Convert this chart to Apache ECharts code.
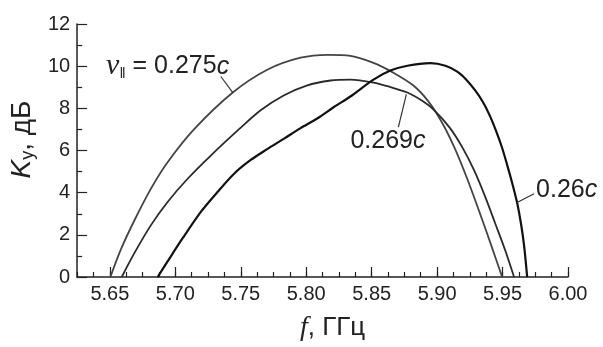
<!DOCTYPE html>
<html>
<head>
<meta charset="utf-8">
<script src="https://cdn.jsdelivr.net/npm/echarts@6/dist/echarts.min.js"></script>
<style>
  html, body { margin: 0; padding: 0; background: #fff; }
  #chart { width: 603px; height: 347px; }
</style>
</head>
<body>
<div id="chart"></div>
<script>
// ---- Data ----
const xMajorTicks = [5.65, 5.70, 5.75, 5.80, 5.85, 5.90, 5.95, 6.00];

const f_0275 = [5.6504, 5.6585, 5.6687, 5.6814, 5.6941, 5.7144, 5.7439, 5.7706, 5.7957, 5.8163, 5.8338, 5.8514, 5.8666, 5.8819, 5.8933, 5.9032, 5.9131, 5.9230, 5.9322, 5.9413, 5.9497];
const k_0275 = [0, 1.32, 2.68, 4.19, 5.44, 7.01, 8.75, 9.84, 10.40, 10.54, 10.49, 10.16, 9.69, 9.08, 8.33, 7.39, 6.16, 4.66, 3.11, 1.51, 0];

const f_0269 = [5.6591, 5.6687, 5.6814, 5.6941, 5.7094, 5.7271, 5.7487, 5.7652, 5.7828, 5.8003, 5.8186, 5.8338, 5.8514, 5.8643, 5.8773, 5.8880, 5.8971, 5.9093, 5.9192, 5.9284, 5.9367, 5.9444, 5.9520, 5.9588];
const k_0269 = [0, 1.13, 2.46, 3.56, 4.66, 5.76, 7.01, 7.91, 8.61, 9.08, 9.32, 9.36, 9.22, 9.01, 8.75, 8.38, 7.95, 7.11, 6.16, 5.04, 3.81, 2.54, 1.27, 0];

const f_026 = [5.6865, 5.6941, 5.7056, 5.7195, 5.7322, 5.7449, 5.7576, 5.7698, 5.7828, 5.7957, 5.8087, 5.8209, 5.8338, 5.8514, 5.8643, 5.8773, 5.8948, 5.9063, 5.9154, 5.9223, 5.9291, 5.9352, 5.9405, 5.9451, 5.9497, 5.9535, 5.9573, 5.9611, 5.9642, 5.9665, 5.9688];
const k_026 = [0, 0.74, 1.84, 3.09, 4.03, 4.90, 5.55, 6.05, 6.55, 7.06, 7.53, 8.05, 8.56, 9.36, 9.79, 10.02, 10.14, 10.02, 9.74, 9.36, 8.85, 8.28, 7.62, 6.92, 6.12, 5.32, 4.47, 3.53, 2.49, 1.46, 0];

// annotation positions in data coordinates
const labelA_at = [5.6471, 9.98];
const labelB_at = [5.8338, 6.45];
const labelC_at = [5.9756, 4.14];
const leaderA = [[5.7348, 9.51], [5.7439, 8.75]];
const leaderB = [[5.8704, 7.11], [5.8765, 8.66]];
const leaderC = [[5.9611, 3.53], [5.9741, 3.95]];

function pairs(xs, ys) { return xs.map((x, i) => [x, ys[i]]); }

const SANS = 'Liberation Sans, Arial, Helvetica, sans-serif';
const SERIF = 'Liberation Serif, Times New Roman, serif';
const AXC = '#222';

const chart = echarts.init(document.getElementById('chart'), null, { renderer: 'canvas' });

const option = {
  backgroundColor: '#fff',
  animation: false,
  grid: { left: 77, right: 35, top: 24, bottom: 68 },
  xAxis: [
    {
      type: 'value', min: 5.625, max: 6.0, interval: 0.0125,
      axisLine: { show: true, onZero: false, lineStyle: { color: AXC, width: 1.5 } },
      axisTick: { show: true, inside: true, length: 5, lineStyle: { color: AXC, width: 1.2 } },
      axisLabel: { show: false },
      splitLine: { show: false }
    },
    {
      type: 'value', min: 5.625, max: 6.0, position: 'bottom',
      axisLine: { show: false },
      axisTick: { show: true, inside: true, length: 10, customValues: xMajorTicks, lineStyle: { color: AXC, width: 1.2 } },
      axisLabel: {
        show: true, customValues: xMajorTicks, margin: 7,
        formatter: v => v.toFixed(2),
        fontFamily: SANS, fontSize: 20, color: AXC
      },
      splitLine: { show: false },
      name: '{f|f}{n|, ГГц}',
      nameLocation: 'middle',
      nameGap: 37,
      nameTextStyle: {
        padding: [0, 0, 0, 20],
        rich: {
          f: { fontFamily: SERIF, fontStyle: 'italic', fontSize: 28, color: AXC },
          n: { fontFamily: SANS, fontSize: 26, color: AXC }
        }
      }
    }
  ],
  yAxis: {
    type: 'value', min: 0, max: 12, interval: 2,
    axisLine: { show: true, onZero: false, lineStyle: { color: AXC, width: 1.5 } },
    axisTick: { show: true, inside: true, length: 10, lineStyle: { color: AXC, width: 1.2 } },
    minorTick: { show: true, splitNumber: 2, length: 5, lineStyle: { color: AXC, width: 1.2 } },
    axisLabel: { margin: 7, fontFamily: SANS, fontSize: 20, color: AXC },
    splitLine: { show: false },
    name: '{k|K}{s|у}{n|, дБ}',
    nameLocation: 'middle',
    nameGap: 36,
    nameTextStyle: {
      padding: [0, 0, 0, 22],
      rich: {
        k: { fontFamily: SANS, fontStyle: 'italic', fontSize: 28, color: AXC, lineHeight: 30 },
        s: { fontFamily: SANS, fontSize: 18, color: AXC, verticalAlign: 'bottom', lineHeight: 20 },
        n: { fontFamily: SANS, fontSize: 28, color: AXC, lineHeight: 30 }
      }
    }
  },
  series: [
    {
      type: 'line', xAxisIndex: 0, data: pairs(f_0275, k_0275), smooth: 0.3,
      showSymbol: false, lineStyle: { color: '#444', width: 1.8 }
    },
    {
      type: 'line', xAxisIndex: 0, data: pairs(f_0269, k_0269), smooth: 0.3,
      showSymbol: false, lineStyle: { color: '#2a2a2a', width: 1.8 }
    },
    {
      type: 'line', xAxisIndex: 0, data: pairs(f_026, k_026), smooth: 0.3,
      showSymbol: false, lineStyle: { color: '#111', width: 2.2 }
    }
  ]
};
chart.setOption(option);

function px(p) { return chart.convertToPixel({ xAxisIndex: 0, yAxisIndex: 0 }, p); }
function leader(seg) {
  const a = px(seg[0]), b = px(seg[1]);
  return { type: 'line', shape: { x1: a[0], y1: a[1], x2: b[0], y2: b[1] }, style: { stroke: '#333', lineWidth: 1.2 }, z: 10 };
}
const labRich = {
  v: { fontFamily: SERIF, fontStyle: 'italic', fontSize: 30, fill: '#222' },
  s: { fontFamily: SANS, fontSize: 15, fill: '#222', verticalAlign: 'bottom', lineHeight: 20 },
  n: { fontFamily: SANS, fontSize: 25, fill: '#222' },
  c: { fontFamily: SANS, fontStyle: 'italic', fontSize: 25, fill: '#222' }
};
function label(at, text) {
  const p = px(at);
  return { type: 'text', x: p[0], y: p[1], z: 10,
    style: { text: text, rich: labRich, align: 'left', verticalAlign: 'middle' } };
}
chart.setOption({
  graphic: [
    leader(leaderA), leader(leaderB), leader(leaderC),
    label(labelA_at, '{v|v}{s|‖}{n| = 0.275}{c|c}'),
    label(labelB_at, '{n|0.269}{c|c}'),
    label(labelC_at, '{n|0.26}{c|c}')
  ]
});
</script>
</body>
</html>
